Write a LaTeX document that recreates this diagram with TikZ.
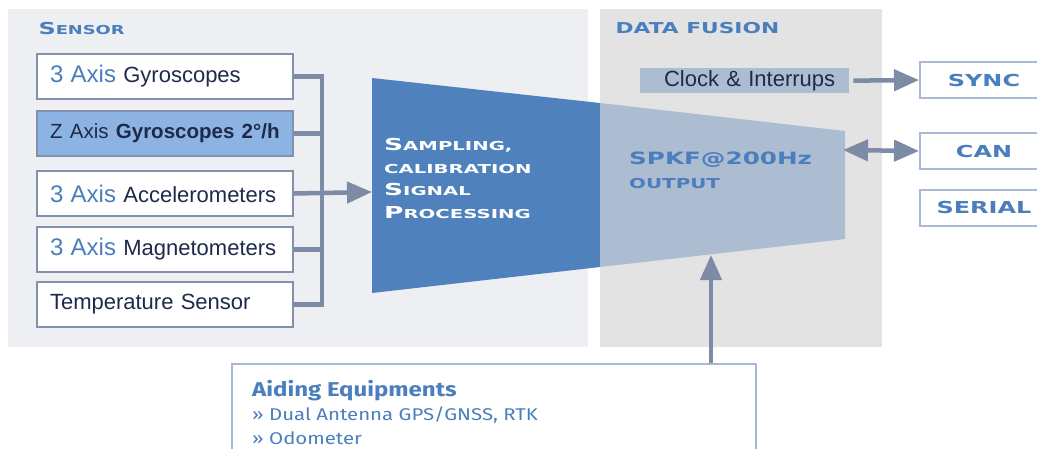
\documentclass[tikz,border=0pt]{standalone}
\usepackage{fontspec}
\setmainfont{Liberation Sans}
\newfontfamily\widefont[FakeStretch=1.45]{DejaVu Sans}
\newfontfamily\widerfont[FakeStretch=1.6]{DejaVu Sans}
\newfontfamily\aidfont[FakeStretch=1.2]{Fira Sans}
\usetikzlibrary{arrows.meta,positioning}
\definecolor{panelS}{HTML}{EDEFF3}
\definecolor{panelF}{HTML}{E3E3E3}
\definecolor{procdark}{HTML}{4F81BD}
\definecolor{proclight}{HTML}{ADBDD1}
\definecolor{zfill}{HTML}{8DB3E2}
\definecolor{boxline}{HTML}{8391AC}
\definecolor{connline}{HTML}{7D8BA6}
\definecolor{outline}{HTML}{A9B9D3}
\definecolor{tblue}{HTML}{4A7EBC}
\definecolor{tdark}{HTML}{1E2A4A}
\newcommand\smc[2]{{\fontsize{16.5}{18}\selectfont #1}{\fontsize{12.3}{14}\selectfont #2}}
\newcommand\threeaxis{{\color{tblue}\fontsize{24}{26}\selectfont 3 Axis} }
\def\sensorbox(#1,#2,#3,#4){
  \node[sbox, fill=#3] (#1) at (36,#2) {#4};
}
\def\outbox(#1,#2,#3){
  \node[obox] (#1) at (984,#2) {#3};
}

\begin{document}
\begin{tikzpicture}[x=1pt,y=-1pt,
  sbox/.style={draw=boxline, line width=2pt, minimum height=45pt, text width=230pt,
    inner xsep=13pt, inner ysep=0pt, align=left, anchor=north west, text=tdark,
    font=\fontsize{22}{26}\selectfont},
  obox/.style={draw=outline, line width=2pt, fill=white, minimum width=128pt,
    minimum height=36pt, text=tblue, font=\widefont\bfseries\fontsize{16.5}{18}\selectfont},
  conn/.style={draw=connline, line width=4.5pt},
  tip/.style={-{Triangle[length=25pt,width=21pt]}}]
\useasboundingbox (0,0) rectangle (1037,448);
% panels
\fill[panelS] (8,9) rectangle (588,347);
\fill[panelF] (600,9) rectangle (882,347);
\node[anchor=west, text=tblue, font=\widefont\bfseries] (senshead) at (35,28) {\smc{S}{ENSOR}};
\node[anchor=west, text=tblue, font=\widefont\bfseries\fontsize{15}{18}\selectfont] (fushead) at (612,28) {DATA FUSION};
% sensors
\sensorbox(gyro,53,white,\threeaxis Gyroscopes)
\sensorbox(zgyro,110,zfill,{\fontsize{20.5}{24}\selectfont Z Axis \textbf{Gyroscopes 2°/h}})
\sensorbox(acc,170,white,\threeaxis Accelerometers)
\sensorbox(magn,226,white,\threeaxis Magnetometers)
\sensorbox(temp,281,white,Temperature Sensor)
% processing block
\fill[procdark] (372,78) -- (600,103) -- (600,267) -- (372,293) -- cycle;
\fill[proclight] (600,103) -- (845,131) -- (845,239) -- (600,267) -- cycle;
\coordinate (procin) at (372,192);
\coordinate (fusout) at (843,150);
\coordinate (fusin) at (711,255);
\node[anchor=north west, text=white, align=left, inner sep=0pt,
  font=\widerfont\bfseries\fontsize{12.3}{22.7}\selectfont] (samp) at (384,138)
  {\smc{S}{AMPLING,}\\\smc{}{CALIBRATION}\\\smc{S}{IGNAL}\\\smc{P}{ROCESSING}};
\node[anchor=west, text=tblue, inner sep=0pt, font=\widefont\bfseries\fontsize{17}{20}\selectfont] (spkf) at (629,160) {SPKF@200Hz};
\node[anchor=west, text=tblue, inner sep=0pt, font=\widefont\bfseries\fontsize{13.7}{16}\selectfont] (outp) at (629,184) {OUTPUT};
% clock and outputs
\node[fill=proclight, anchor=north west, minimum height=25pt, text width=181pt, inner xsep=14pt,
  inner ysep=0pt, align=right, text=tdark, font=\fontsize{22}{24}\selectfont] (clock) at (640,68) {Clock \& Interrups};
\outbox(sync,80,SYNC)
\outbox(can,151,CAN)
\outbox(serial,207.5,SERIAL)
% aiding
\node[draw=outline, line width=2pt, anchor=north west, minimum width=524pt, minimum height=110pt] (aid) at (231,363) {};
\node[below right=17pt and 21pt of aid.north west, anchor=north west, align=left, inner sep=0pt,
  text=tblue, font=\aidfont\fontsize{17}{24}\selectfont] (aidtxt)
  {{\bfseries\fontsize{20}{24}\selectfont Aiding Equipments}\\» Dual Antenna GPS/GNSS, RTK\\» Odometer};
% connectors
\draw[conn] (gyro.east) -- ++(28,0) |- (temp.east);
\draw[conn] (zgyro.east) -- ++(28,0);
\draw[conn] (magn.east) -- ++(28,0);
\draw[conn, tip] (acc.east) -- (procin);
\draw[conn, tip, shorten <=4pt] (clock.east) -- (sync.west);
\draw[conn, {Triangle[length=25pt,width=21pt]}-{Triangle[length=25pt,width=21pt]}] (fusout) -- (can.west);
\draw[conn, tip] (aid.north -| fusin) -- (fusin);
\end{tikzpicture}
\end{document}
